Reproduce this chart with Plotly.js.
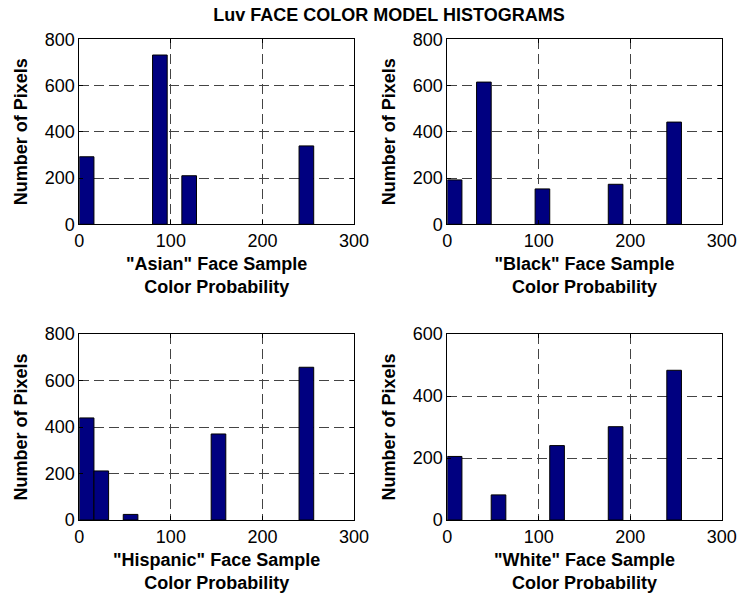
<!DOCTYPE html>
<html>
<head>
<meta charset="utf-8">
<script src="https://cdn.plot.ly/plotly-3.0.1.min.js"></script>
<style>html,body{margin:0;padding:0;background:#fff;}#chart{width:739px;height:599px;}</style>
</head>
<body>
<div id="chart"></div>
<script>
// Histogram bin centers (bin width 16) and counts
const binWidth = 16;
const asianX = [8, 88, 120, 248];
const asianY = [292, 732, 210, 339];
const blackX = [8, 40, 104, 184, 248];
const blackY = [192, 615, 153, 173, 442];
const hispanicX = [8, 24, 56, 152, 248];
const hispanicY = [439, 211, 24, 370, 657];
const whiteX = [8, 56, 120, 184, 248];
const whiteY = [205, 81, 240, 301, 483];

const xTitles = ['"Asian" Face Sample<br>Color Probability',
                 '"Black" Face Sample<br>Color Probability',
                 '"Hispanic" Face Sample<br>Color Probability',
                 '"White" Face Sample<br>Color Probability'];
const yTitle = 'Number of Pixels';
const mainTitle = 'Luv FACE COLOR MODEL HISTOGRAMS';
const yMax = [800, 800, 800, 600];
const xTickVals = [0, 100, 200, 300];

const series = [[asianX, asianY], [blackX, blackY], [hispanicX, hispanicY], [whiteX, whiteY]];
const axSuffix = ['', '2', '3', '4'];

const traces = series.map((s, i) => ({
  type: 'bar',
  x: s[0],
  y: s[1],
  width: s[0].map(() => binWidth),
  marker: {color: '#000080', line: {color: '#000000', width: 1}},
  xaxis: 'x' + axSuffix[i],
  yaxis: 'y' + axSuffix[i],
  showlegend: false,
  hoverinfo: 'x+y'
}));

const W = 739, H = 599;
const xDomains = [[79.3 / W, 354 / W], [447.3 / W, 721.7 / W]];
const yDomains = [[1 - 224.3 / H, 1 - 39.3 / H], [1 - 520 / H, 1 - 334 / H]];

const font = {family: 'Liberation Sans, Arial, sans-serif', color: '#000'};
const layout = {
  width: W, height: H,
  margin: {l: 0, r: 0, t: 0, b: 0},
  paper_bgcolor: '#fff', plot_bgcolor: '#fff',
  font: font,
  bargap: 0,
  title: {text: '<b>' + mainTitle + '</b>', x: 389 / W, xanchor: 'center', y: 1 - 15 / H, yanchor: 'middle',
          font: {family: font.family, size: 18, color: '#000'}}
};

for (let i = 0; i < 4; i++) {
  const col = i % 2, row = Math.floor(i / 2);
  const xa = {
    domain: xDomains[col],
    range: [0, 300],
    tickvals: xTickVals,
    ticktext: xTickVals.map(String),
    ticks: 'inside', ticklen: 4, tickcolor: '#000',
    showline: true, mirror: 'ticks', linecolor: '#000', linewidth: 1,
    showgrid: true, gridcolor: '#444', gridwidth: 1, griddash: '10px,5px',
    zeroline: false,
    tickfont: {family: font.family, size: 18, color: '#000'},
    anchor: 'y' + axSuffix[i],
    automargin: false,
    title: {text: '<b>' + xTitles[i] + '</b>', standoff: 7,
            font: {family: font.family, size: 18, color: '#000'}}
  };
  const ya = {
    domain: yDomains[row],
    range: [0, yMax[i]],
    dtick: 200,
    ticks: 'inside', ticklen: 4, tickcolor: '#000',
    showline: true, mirror: 'ticks', linecolor: '#000', linewidth: 1,
    showgrid: true, gridcolor: '#444', gridwidth: 1, griddash: '10px,5px',
    zeroline: false,
    tickfont: {family: font.family, size: 18, color: '#000'},
    anchor: 'x' + axSuffix[i],
    automargin: false,
    title: {text: '<b>' + yTitle + '</b>', standoff: 12,
            font: {family: font.family, size: 18, color: '#000'}}
  };
  layout['xaxis' + axSuffix[i]] = xa;
  layout['yaxis' + axSuffix[i]] = ya;
}

Plotly.newPlot('chart', traces, layout, {displayModeBar: false, staticPlot: true});
</script>
</body>
</html>
